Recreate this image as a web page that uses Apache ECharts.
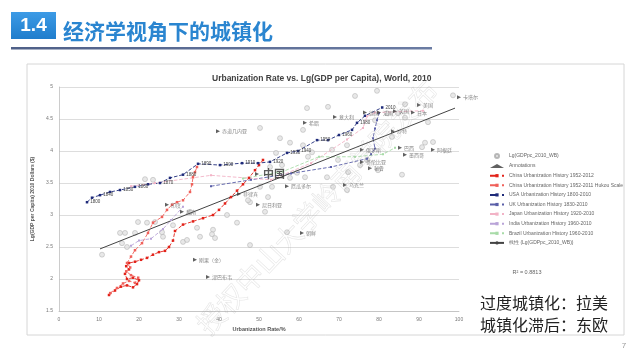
<!DOCTYPE html>
<html><head><meta charset="utf-8">
<script src="https://cdn.jsdelivr.net/npm/echarts@6/dist/echarts.min.js"></script>
<style>html,body{margin:0;padding:0;background:#fff}#c{width:640px;height:359px}</style>
</head><body><div id="c"></div>
<script>
const slideNumber = '1.4';
const slideTitle = '经济学视角下的城镇化';
const chartTitle = 'Urbanization Rate vs. Lg(GDP per Capita), World, 2010';
const xName = 'Urbanization Rate/%';
const yName = 'Lg(GDP per Capita) 2010 Dollars ($)';
const noteLines = ['过度城镇化：拉美', '城镇化滞后：东欧'];
const r2Text = 'R² = 0.8813';
const pageNo = '7';
const watermark = '授权中山大学岭南学院发布';

const seriesNames = [
  'Lg(GDPpc_2010_WB)', 'Annotations',
  'China Urbanization History 1952-2012',
  'China Urbanization History 1952-2011 Hukou Scale',
  'USA Urbanization History 1800-2010',
  'UK Urbanization History 1830-2010',
  'Japan Urbanization History 1920-2010',
  'India Urbanization History 1960-2010',
  'Brazil Urbanization History 1960-2010',
  '线性 (Lg(GDPpc_2010_WB))'
];

const countries = [
  [21.5,3.56],[23.5,3.55],[50.25,4.36],[55.25,4.2],[57.75,4.13],[62,4.67],[61,4.33],[61,4.09],
  [54.25,3.97],[63.25,3.98],[62.25,3.91],[55.75,3.78],[52.75,3.75],[59.5,3.66],[61.5,3.59],
  [57.75,3.58],[53.25,3.44],[50.25,3.44],[47.75,3.2],[74,4.86],[79.5,4.94],[67.25,4.69],
  [98.5,4.87],[86.5,4.73],[82,4.59],[84.75,4.59],[86.5,4.52],[92.25,4.45],[79,4.48],
  [83.25,4.22],[72,4.09],[68.25,4.02],[91.5,4.13],[93.5,4.14],[90.75,4.06],[69.75,3.86],
  [75.25,3.78],[77,3.86],[72.25,3.67],[79.75,3.7],[85.75,3.63],[67,3.59],[68.5,3.44],[72,3.39],
  [19.75,2.89],[22,2.88],[24,2.89],[15.25,2.72],[16.5,2.72],[19,2.72],[25.75,2.73],[26,2.66],
  [15.75,2.56],[17,2.5],[10.75,2.38],[31,2.58],[32,2.61],[28.5,2.84],[32.75,3.05],[42,3.0],
  [44.5,2.88],[34.5,2.8],[38.5,2.77],[38.25,2.7],[39,2.64],[35.25,2.66],[47.75,2.53],[57,2.73],
  [51.5,3.05],[47.25,3.23],[52.25,3.28]
];

const annotations = [
  [39.75,4.31,'赤道几内亚'],[100,4.84,'卡塔尔'],[61.5,4.44,'希腊'],[69,4.53,'意大利'],
  [76.5,4.6,'德国'],[80,4.6,'法国'],[84,4.62,'英国'],[88.5,4.6,'日本'],[90,4.72,'美国'],
  [83.5,4.31,'沙特'],[75.75,4.02,'俄罗斯'],[85.25,4.05,'巴西'],[86.5,3.94,'墨西哥'],
  [93.5,4.02,'阿根廷'],[75.75,3.83,'哥伦比亚'],[77.75,3.73,'秘鲁'],[71.5,3.47,'乌克兰'],
  [57,3.45,'厄瓜多尔'],[49.5,3.64,'中国'],[45,3.33,'菲律宾'],[49.75,3.16,'尼日利亚'],
  [27,3.16,'印度'],[30.75,3.05,'越南'],[60.75,2.72,'朝鲜'],[34,2.3,'刚果（金）'],[37.25,2.03,'津巴布韦']
];

const chinaHistory = [
  [12.5,1.75],[14,1.82],[15.5,1.88],[17,1.9],[18.5,1.87],[19.5,1.92],[20,1.98],[18.5,2.02],
  [17,2.0],[16.5,2.08],[17.5,2.15],[16.8,2.2],[17.5,2.25],[19,2.27],[20.5,2.3],[22,2.33],
  [23.5,2.38],[25,2.42],[26.5,2.44],[27.5,2.5],[28.5,2.6],[29,2.75],[31,2.85],[33.5,2.9],
  [36,2.95],[38.5,3.0],[40,3.08],[41.5,3.18],[43,3.28],[44.5,3.38],[46,3.48],[47.5,3.58],
  [49,3.7],[50,3.78],[51,3.86]
];
const chinaHukou = [
  [12.8,1.78],[14.5,1.86],[16,1.93],[17.5,1.97],[19,1.94],[19.8,2.02],[18,2.06],[16.8,2.12],
  [17.8,2.18],[17,2.25],[18,2.35],[19,2.45],[20.75,2.56],[22.25,2.72],[23.5,2.88],[25.75,2.97],
  [27,3.08],[28.25,3.16],[29.5,3.2],[31,3.23],[32.75,3.36],[33.25,3.48],[33.5,3.59],[34,3.67],[34.5,3.75]
];
const usaHistory = [
  [7,3.2,'1800'],[8.25,3.27,''],[10.25,3.31,'1840'],[12.75,3.36,''],[15.25,3.39,'1850'],
  [19,3.44,'1860'],[22.25,3.48,''],[25.25,3.5,'1870'],[27.75,3.58,''],[31,3.63,'1880'],
  [34.75,3.8,'1890'],[40.25,3.78,'1900'],[45.75,3.81,'1910'],[49.75,3.81,''],[52.75,3.83,'1920'],
  [57,3.97,'1930'],[59.75,4.0,'1940'],[64.5,4.17,'1950'],[67.25,4.17,''],[70,4.25,'1960'],
  [73.25,4.33,''],[74.5,4.44,'1980'],[76.5,4.55,''],[80.8,4.68,'2010']
];
const ukHistory = [
  [38,3.45],[48,3.55],[58,3.65],[68,3.75],[77,3.88],[78,3.95],[79,4.04],[78.5,4.2],[79,4.35],[79.5,4.48],[80,4.59]
];
const japanHistory = [
  [18,3.45],[24,3.5],[38,3.62],[53,3.55],[63,3.81],[72,4.18],[76,4.36],[77,4.54],[79,4.6],[91,4.63]
];
const indiaHistory = [[18,2.52],[20,2.6],[23,2.63],[26,2.78],[28,2.92],[31,3.13]];
const brazilHistory = [[46,3.57],[56,3.68],[65,3.91],[74,3.91],[81,3.95],[84,4.05]];
const trendLine = [[10.25,2.47],[99,4.67]];

const chart = echarts.init(document.getElementById('c'), null, {renderer:'canvas'});
const cjk = '"Noto Sans CJK SC", "Noto Sans", sans-serif';
const lat = '"Liberation Sans", Arial, sans-serif';

function histSeries(name, data, color, dashed, size, opts) {
  return Object.assign({
    name, type:'line', data, symbol:'rect', symbolSize:size,
    itemStyle:{color},
    lineStyle:{color, width:0.9, type: dashed ? 'dashed' : 'solid'},
    z:3
  }, opts || {});
}

chart.setOption({
  animation:false,
  backgroundColor:'#fff',
  title:{text:chartTitle, left:207, top:69, textStyle:{fontFamily:lat, fontSize:8.5, fontWeight:'bold', color:'#404040'}},
  grid:{left:59, right:181, top:87, bottom:48},
  legend:{
    orient:'vertical', left:484, top:148, itemWidth:14, itemHeight:4, itemGap:4.6,
    textStyle:{fontFamily:lat, fontSize:5, color:'#666'}, data:seriesNames
  },
  xAxis:{type:'value', min:0, max:100, interval:10,
    name:xName, nameLocation:'middle', nameGap:13,
    nameTextStyle:{fontFamily:lat, fontSize:5.5, fontWeight:'bold', color:'#555'},
    axisLine:{show:true, lineStyle:{color:'#bfbfbf', width:0.8}}, axisTick:{show:false},
    axisLabel:{fontFamily:lat, fontSize:5, color:'#777', margin:6}, splitLine:{show:false}},
  yAxis:{type:'value', min:1.5, max:5, interval:0.5,
    name:yName, nameLocation:'middle', nameGap:16, nameRotate:90,
    nameTextStyle:{fontFamily:lat, fontSize:5, fontWeight:'bold', color:'#555'},
    axisLine:{show:true, lineStyle:{color:'#bfbfbf', width:0.8}}, axisTick:{show:false},
    axisLabel:{fontFamily:lat, fontSize:5, color:'#777', margin:6},
    splitLine:{show:true, lineStyle:{color:'#d4d4d4', width:0.8}}},
  series:[
    {name:seriesNames[0], type:'scatter', data:countries, symbol:'circle', symbolSize:5,
      itemStyle:{color:'#e2e2e2', borderColor:'#a8a8a8', borderWidth:0.6}, z:2},
    {name:seriesNames[1], type:'scatter', symbol:'triangle', symbolRotate:-90, symbolSize:4,
      itemStyle:{color:'#3a3a3a'}, z:4,
      data: annotations.map(a => a[2] === '中国'
        ? {value:a, label:{fontSize:11, color:'#333', fontWeight:'bold', distance:4, fontFamily:cjk}}
        : a),
      label:{show:true, position:'right', distance:2, fontSize:5, color:'#666', fontFamily:cjk,
        formatter:p => p.value[2]}},
    histSeries(seriesNames[2], chinaHistory, '#e2231a', true, 2.5),
    histSeries(seriesNames[3], chinaHukou, '#f0605a', true, 2.5),
    histSeries(seriesNames[4], usaHistory, '#1f2b7a', true, 2.5, {
      label:{show:true, position:'right', distance:2, fontSize:4.5, color:'#444', fontFamily:lat,
        formatter:p => p.value[2] || ''}}),
    histSeries(seriesNames[5], ukHistory, '#5a5fa8', true, 2),
    histSeries(seriesNames[6], japanHistory, '#f2b3c6', true, 2),
    histSeries(seriesNames[7], indiaHistory, '#b9a4d8', true, 2),
    histSeries(seriesNames[8], brazilHistory, '#a8dba8', true, 2),
    {name:seriesNames[9], type:'line', data:trendLine, symbol:'none', showSymbol:false,
      itemStyle:{color:'#444'}, lineStyle:{color:'#444', width:1}, z:3}
  ],
  graphic:[
    {type:'rect', shape:{x:27, y:64, width:597, height:271}, style:{fill:'none', stroke:'#d6d6d6', lineWidth:1}, z:-1, silent:true},
    {type:'rect', shape:{x:11, y:12, width:45, height:27},
      style:{fill:new echarts.graphic.LinearGradient(0,0,0,1,[{offset:0,color:'#3d9be6'},{offset:1,color:'#1f7dcc'}])}},
    {type:'text', x:33.5, y:26, style:{text:slideNumber, fill:'#fff', font:'bold 19px '+lat, textAlign:'center', textVerticalAlign:'middle'}},
    {type:'text', x:63, y:31, style:{text:slideTitle, fill:'#2a85d0', font:'bold 21px '+cjk, textVerticalAlign:'middle'}},
    {type:'rect', shape:{x:11, y:47, width:421, height:2.5},
      style:{fill:new echarts.graphic.LinearGradient(0,0,1,0,[{offset:0,color:'#4f6088'},{offset:1,color:'#6b7ca3'}])}},
    {type:'text', x:527, y:272, style:{text:r2Text, fill:'#666', font:'5.5px '+lat, textAlign:'center', textVerticalAlign:'middle'}},
    {type:'text', x:480, y:303, style:{text:noteLines[0], fill:'#222', font:'16px '+cjk, textVerticalAlign:'middle'}},
    {type:'text', x:480, y:325, style:{text:noteLines[1], fill:'#222', font:'16px '+cjk, textVerticalAlign:'middle'}},
    {type:'text', x:624, y:346, style:{text:pageNo, fill:'#999', font:'8px '+lat, textAlign:'center', textVerticalAlign:'middle'}},
    {type:'text', x:317, y:207, rotation:0.815, z:10, silent:true,
      style:{text:watermark, fill:'rgba(255,255,255,0)', stroke:'rgba(160,160,160,0.28)', lineWidth:0.6,
        font:'28px '+cjk, textAlign:'center', textVerticalAlign:'middle'}}
  ]
});
</script></body></html>
